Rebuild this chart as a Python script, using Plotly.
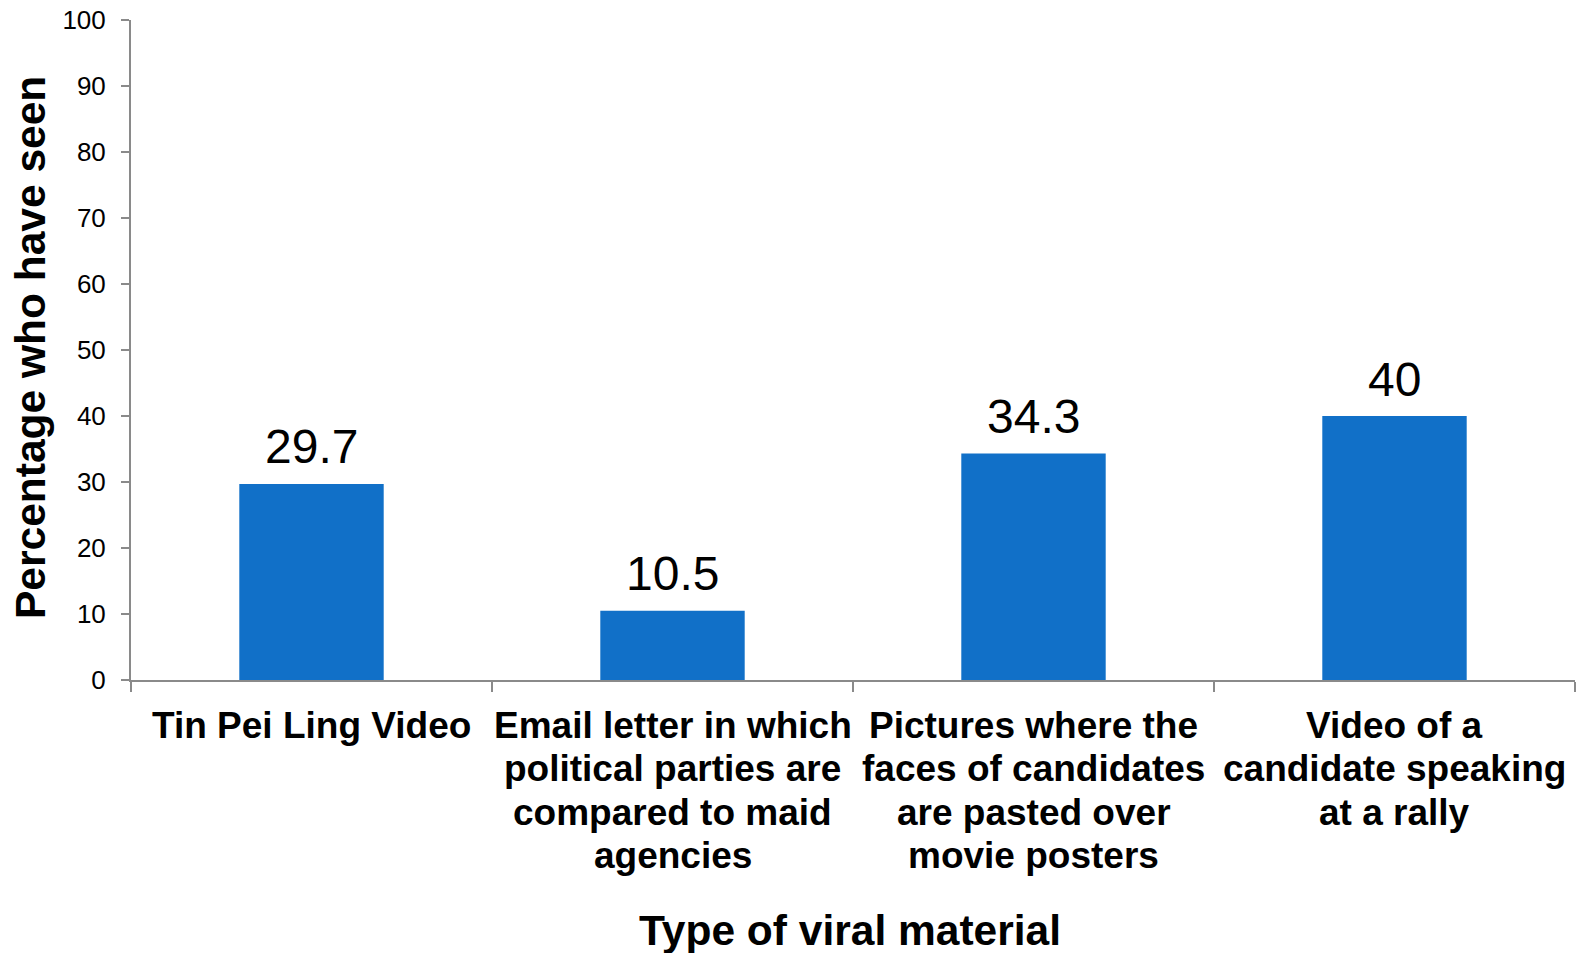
import plotly.graph_objects as go

# Survey results: share of respondents who have seen each piece of viral material
categories = [
    "Tin Pei Ling Video",
    "Email letter in which political parties are compared to maid agencies",
    "Pictures where the faces of candidates are pasted over movie posters",
    "Video of a candidate speaking at a rally",
]
category_lines = [
    ["Tin Pei Ling Video"],
    ["Email letter in which", "political parties are", "compared to maid", "agencies"],
    ["Pictures where the", "faces of candidates", "are pasted over", "movie posters"],
    ["Video of a", "candidate speaking", "at a rally"],
]
values = [29.7, 10.5, 34.3, 40]
value_labels = ["29.7", "10.5", "34.3", "40"]
y_ticks = list(range(0, 101, 10))

FONT = "Liberation Sans, Arial, sans-serif"
AXIS_GREY = "#8a8a8a"
BAR_BLUE = "#1170c8"

fig = go.Figure(
    go.Bar(
        x=categories,
        y=values,
        width=0.4,
        marker=dict(color=BAR_BLUE, line=dict(width=0)),
        hoverinfo="skip",
    )
)

annotations = []

# value labels above each bar
for cat, v, lab in zip(categories, values, value_labels):
    annotations.append(dict(
        x=cat, y=v, xref="x", yref="y", text=lab, showarrow=False,
        xanchor="center", yanchor="middle", yshift=37,
        font=dict(family=FONT, size=48, color="black"),
    ))

# multi-line category labels under the axis
LINE_GAP = 43.3
for cat, lines in zip(categories, category_lines):
    for i, line in enumerate(lines):
        annotations.append(dict(
            x=cat, y=0, xref="x", yref="y", text=f"<b>{line}</b>", showarrow=False,
            xanchor="center", yanchor="middle", yshift=-(45.5 + i * LINE_GAP),
            font=dict(family=FONT, size=37, color="black"),
        ))

# axis titles
annotations.append(dict(
    x=0.5, y=0, xref="paper", yref="paper", text="<b>Type of viral material</b>",
    showarrow=False, xanchor="center", yanchor="middle", yshift=-250, xshift=-3,
    font=dict(family=FONT, size=42.5, color="black"),
))
annotations.append(dict(
    x=0, y=0.5, xref="paper", yref="paper", text="<b>Percentage who have seen</b>",
    showarrow=False, xanchor="center", yanchor="middle", xshift=-101, yshift=2,
    textangle=-90,
    font=dict(family=FONT, size=42.5, color="black"),
))

fig.update_layout(
    width=1580,
    height=953,
    margin=dict(l=131, r=5, t=18, b=273),
    paper_bgcolor="white",
    plot_bgcolor="white",
    showlegend=False,
    bargap=0.6,
    annotations=annotations,
    font=dict(family=FONT, color="black"),
)

fig.update_xaxes(
    type="category",
    categoryorder="array",
    categoryarray=categories,
    tickson="boundaries",
    ticks="outside",
    ticklen=10,
    tickwidth=2,
    tickcolor=AXIS_GREY,
    showticklabels=False,
    showline=True,
    linecolor=AXIS_GREY,
    linewidth=2,
    showgrid=False,
    zeroline=False,
    fixedrange=True,
)

fig.update_yaxes(
    range=[0, 100],
    tickvals=y_ticks,
    ticktext=[str(t) for t in y_ticks],
    ticks="outside",
    ticklen=8,
    tickwidth=2,
    tickcolor=AXIS_GREY,
    ticklabelstandoff=10,
    tickfont=dict(family=FONT, size=26, color="black"),
    showline=True,
    linecolor=AXIS_GREY,
    linewidth=2,
    showgrid=False,
    zeroline=False,
    fixedrange=True,
)

fig.write_html("out.html", config={"displayModeBar": False})
